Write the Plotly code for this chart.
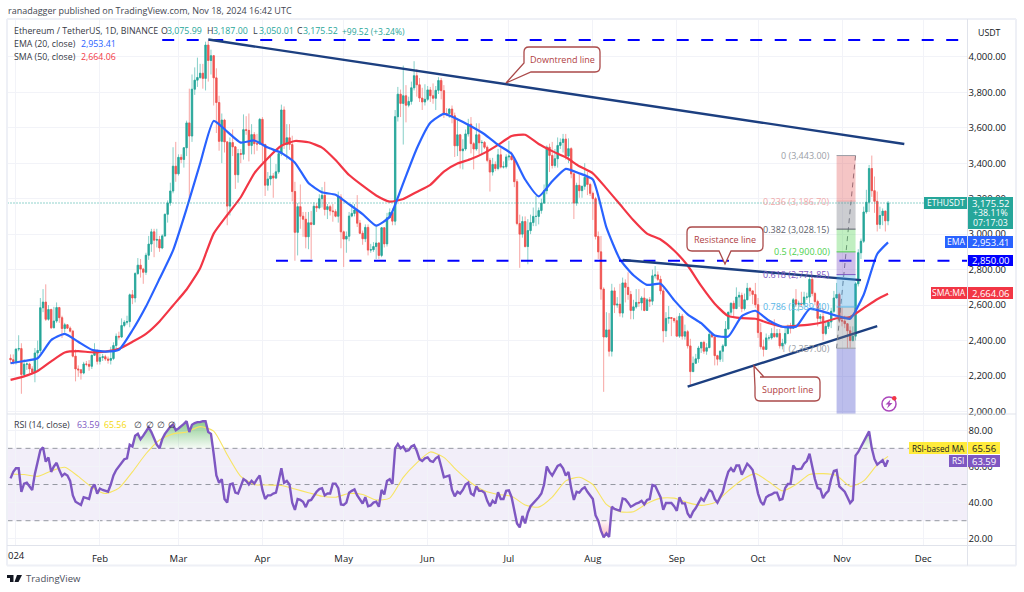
import pandas as pd
import numpy as np
import plotly.graph_objects as go

# --- daily ETHUSDT candles (30 Dec 2023 -> 18 Nov 2024) ---
closes = [2292, 2281,
    2352, 2355, 2209, 2267, 2268, 2240, 2221, 2330, 2344, 2585, 2617, 2520, 2575, 2472, 2510, 2586, 2529, 2468, 2489, 2470, 2453, 2312, 2240, 2235, 2217, 2268, 2266, 2255, 2317, 2342, 2283,
    2304, 2309, 2296, 2289, 2299, 2372, 2424, 2420, 2485, 2503, 2507, 2658, 2640, 2778, 2825, 2803, 2785, 2881, 2944, 3013, 2966, 2970, 2922, 2990, 3112, 3176, 3243, 3383, 3340,
    3433, 3421, 3487, 3627, 3553, 3817, 3868, 3883, 3907, 3878, 4066, 3979, 4006, 3881, 3742, 3523, 3643, 3520, 3158, 3516, 3492, 3335, 3454, 3450, 3589, 3585, 3500, 3561, 3510, 3508, 3647,
    3505, 3276, 3311, 3328, 3316, 3351, 3454, 3700, 3505, 3543, 3505, 3240, 3010, 3155, 3101, 3084, 2985, 3064, 3055, 3157, 3148, 3200, 3219, 3139, 3155, 3131, 3127, 3101, 3209, 3013,
    2972, 2988, 3102, 3117, 3136, 3062, 3005, 2974, 3038, 2910, 2912, 2930, 2950, 2880, 3036, 2945, 3092, 3122, 3073, 3662, 3789, 3737, 3780, 3727, 3748, 3825, 3893, 3842, 3767, 3745, 3760,
    3813, 3780, 3766, 3811, 3866, 3809, 3680, 3680, 3705, 3667, 3498, 3560, 3470, 3480, 3565, 3620, 3510, 3480, 3560, 3515, 3517, 3490, 3416, 3350, 3393, 3370, 3447, 3378, 3380, 3435,
    3440, 3420, 3296, 3060, 3000, 3071, 2930, 3020, 3065, 3100, 3100, 3133, 3175, 3245, 3490, 3444, 3387, 3425, 3500, 3517, 3536, 3440, 3482, 3340, 3175, 3275, 3245, 3270, 3320, 3280, 3230,
    3200, 2987, 2900, 2690, 2420, 2460, 2340, 2680, 2600, 2605, 2555, 2725, 2700, 2660, 2570, 2590, 2615, 2612, 2640, 2570, 2630, 2622, 2765, 2770, 2745, 2680, 2455, 2525, 2530, 2525, 2512,
    2425, 2537, 2425, 2450, 2370, 2225, 2272, 2297, 2358, 2390, 2340, 2360, 2435, 2420, 2315, 2295, 2340, 2370, 2465, 2560, 2610, 2580, 2645, 2655, 2580, 2630, 2695, 2680, 2660, 2602,
    2445, 2365, 2350, 2415, 2415, 2440, 2422, 2440, 2370, 2385, 2440, 2475, 2470, 2630, 2605, 2610, 2605, 2645, 2645, 2745, 2665, 2620, 2525, 2535, 2440, 2480, 2505, 2565, 2640, 2660, 2515,
    2510, 2495, 2455, 2400, 2425, 2720, 2895, 2960, 3125, 3180, 3370, 3245, 3185, 3055, 3105, 3130, 3075, 3175.52]
highs = [2322, 2322,
    2355, 2430, 2385, 2295, 2277, 2275, 2255, 2358, 2400, 2640, 2690, 2717, 2600, 2580, 2590, 2615, 2590, 2540, 2500, 2490, 2480, 2460, 2350, 2260, 2240, 2280, 2285, 2290, 2320, 2385, 2350,
    2325, 2325, 2320, 2310, 2365, 2390, 2440, 2450, 2525, 2515, 2540, 2665, 2685, 2785, 2865, 2860, 2810, 2895, 2990, 3030, 3030, 3030, 2990, 3000, 3115, 3190, 3290, 3490, 3520,
    3450, 3450, 3490, 3640, 3820, 3900, 3940, 3995, 3960, 3960, 4085, 4090, 4040, 4010, 3935, 3780, 3680, 3650, 3525, 3545, 3590, 3495, 3480, 3480, 3675, 3665, 3680, 3620, 3575, 3565, 3655,
    3660, 3510, 3350, 3445, 3345, 3395, 3455, 3730, 3720, 3620, 3620, 3555, 3295, 3175, 3280, 3125, 3125, 3125, 3130, 3180, 3175, 3225, 3265, 3295, 3170, 3165, 3170, 3140, 3240, 3225,
    3020, 3015, 3125, 3170, 3170, 3220, 3080, 3020, 3055, 3055, 2945, 2955, 3045, 2955, 3040, 3040, 3120, 3145, 3145, 3700, 3830, 3815, 3950, 3840, 3775, 3860, 3975, 3930, 3880, 3825, 3845,
    3835, 3830, 3850, 3835, 3885, 3880, 3840, 3710, 3710, 3725, 3685, 3655, 3565, 3535, 3590, 3650, 3660, 3520, 3625, 3625, 3530, 3525, 3500, 3430, 3430, 3410, 3480, 3485, 3410, 3450,
    3525, 3465, 3430, 3310, 3110, 3100, 3100, 3085, 3110, 3150, 3215, 3150, 3200, 3280, 3500, 3510, 3520, 3480, 3545, 3540, 3565, 3565, 3540, 3490, 3345, 3290, 3340, 3270, 3400, 3350, 3290,
    3240, 3210, 3015, 2990, 2700, 2560, 2555, 2720, 2700, 2645, 2720, 2755, 2745, 2785, 2680, 2630, 2690, 2690, 2650, 2695, 2640, 2645, 2800, 2820, 2790, 2765, 2695, 2560, 2595, 2525, 2525,
    2535, 2555, 2550, 2490, 2460, 2410, 2310, 2325, 2370, 2390, 2400, 2385, 2460, 2425, 2420, 2320, 2345, 2380, 2510, 2560, 2615, 2625, 2700, 2675, 2670, 2665, 2725, 2700, 2665, 2725,
    2640, 2500, 2405, 2440, 2430, 2470, 2520, 2465, 2465, 2410, 2475, 2490, 2500, 2640, 2690, 2625, 2675, 2675, 2670, 2760, 2770, 2675, 2630, 2550, 2585, 2510, 2505, 2585, 2680, 2725, 2670,
    2585, 2540, 2495, 2480, 2480, 2730, 2915, 2975, 3155, 3250, 3390, 3443, 3325, 3240, 3155, 3145, 3125, 3187]
lows = [2270, 2265,
    2265, 2340, 2100, 2205, 2235, 2215, 2210, 2165, 2235, 2330, 2560, 2510, 2512, 2465, 2470, 2500, 2500, 2415, 2445, 2465, 2445, 2305, 2170, 2195, 2180, 2210, 2255, 2230, 2240, 2315, 2265,
    2265, 2285, 2285, 2270, 2265, 2290, 2350, 2405, 2415, 2475, 2490, 2475, 2605, 2615, 2770, 2755, 2720, 2770, 2855, 2900, 2870, 2925, 2900, 2915, 2985, 3065, 3160, 3230, 3295,
    3330, 3400, 3375, 3440, 3200, 3520, 3785, 3830, 3875, 3820, 3810, 3860, 3900, 3725, 3570, 3470, 3400, 3460, 3050, 3105, 3440, 3255, 3290, 3400, 3420, 3560, 3410, 3450, 3450, 3470, 3505,
    3405, 3215, 3245, 3275, 3205, 3310, 3340, 3440, 3480, 3420, 3475, 3185, 2850, 2880, 3030, 2985, 2920, 2915, 2860, 3050, 3125, 3140, 3150, 3105, 3085, 3105, 3070, 3095, 3065, 2920,
    2815, 2895, 2960, 3095, 3100, 3040, 3000, 2940, 2955, 2880, 2895, 2900, 2860, 2860, 2870, 2925, 2930, 3090, 3050, 3050, 3635, 3660, 3505, 3630, 3715, 3730, 3810, 3775, 3745, 3700, 3725,
    3750, 3745, 3735, 3700, 3790, 3760, 3655, 3665, 3655, 3625, 3435, 3440, 3370, 3365, 3470, 3550, 3455, 3365, 3470, 3450, 3445, 3480, 3405, 3240, 3330, 3355, 3360, 3370, 3370, 3370,
    3415, 3415, 3265, 3050, 2810, 2980, 2925, 2830, 3000, 3045, 3045, 3055, 3115, 3170, 3225, 3350, 3370, 3375, 3375, 3480, 3460, 3420, 3400, 3315, 3085, 3160, 3205, 3205, 3250, 3220, 3215,
    3080, 2970, 2860, 2630, 2111, 2420, 2310, 2310, 2555, 2585, 2535, 2530, 2615, 2630, 2520, 2520, 2580, 2590, 2570, 2565, 2575, 2590, 2600, 2750, 2735, 2660, 2390, 2420, 2495, 2425, 2500,
    2425, 2415, 2405, 2405, 2355, 2150, 2255, 2270, 2275, 2330, 2325, 2320, 2390, 2420, 2260, 2260, 2280, 2280, 2420, 2465, 2545, 2535, 2585, 2590, 2560, 2570, 2630, 2650, 2605, 2585,
    2415, 2350, 2310, 2350, 2400, 2405, 2415, 2415, 2355, 2350, 2375, 2435, 2440, 2465, 2590, 2565, 2590, 2590, 2630, 2610, 2650, 2600, 2480, 2500, 2400, 2430, 2465, 2470, 2555, 2650, 2500,
    2480, 2470, 2357, 2360, 2395, 2400, 2705, 2860, 2950, 3115, 3125, 3210, 3120, 3015, 3030, 3050, 3015, 3050]
first_open = 2300

# moving averages, read every 5 days (last point is the final candle)
ma_days = list(range(-2, 320, 5)) + [322]
ema20 = [2272, 2285, 2300, 2403, 2438, 2393, 2348, 2338, 2348, 2458, 2592, 2748, 2908, 3143, 3398, 3638, 3578, 3516, 3528, 3488, 3458, 3403, 3288, 3236, 3222,
    3168, 3113, 3048, 3098, 3288, 3483, 3628, 3678, 3648, 3608, 3563, 3503, 3453, 3308, 3213, 3298, 3368, 3343, 3308, 3038, 2858, 2768, 2714, 2720, 2628,
    2548, 2498, 2428, 2423, 2538, 2568, 2513, 2478, 2478, 2578, 2563, 2540, 2523, 2658, 2888, 2953.41]
sma50 = [2178, 2198, 2228, 2283, 2333, 2340, 2334, 2338, 2353, 2393, 2438, 2508, 2598, 2688, 2808, 3003, 3108, 3208, 3343, 3428, 3498, 3525, 3518, 3488, 3418,
    3333, 3273, 3218, 3183, 3198, 3238, 3278, 3353, 3398, 3423, 3458, 3503, 3553, 3560, 3508, 3468, 3433, 3383, 3343, 3258, 3168, 3078, 3003, 2970, 2908,
    2823, 2708, 2608, 2538, 2526, 2523, 2498, 2478, 2483, 2490, 2503, 2526, 2533, 2583, 2633, 2664.06]
rsi_ma = [55.8, 55.5, 54.5, 57.5, 59.5, 54.5, 48.5, 45, 48, 57, 67, 74.6, 78, 79, 82, 79.5, 66.5, 54.5, 50, 49.7, 49.5, 47.5, 45.5, 43.5, 43,
    45, 44.5, 41.4, 42.5, 54, 62, 68, 65, 57.5, 51, 46.5, 44.5, 43.5, 38.7, 37.5, 43, 52, 54, 50, 39, 35, 35, 39.5, 42.5, 42.5,
    40, 38.5, 40, 46.5, 52.5, 56, 51.5, 46.5, 50, 55.5, 56, 55, 49, 52, 61, 65.56]

rsi = [53.4, 57,
    59, 59, 46, 50.5, 51, 49, 47, 56, 62, 69, 70.5, 62.6, 65, 57, 60, 62, 58, 54.7, 56, 55, 52, 44, 40.5, 39.5, 38.7, 43, 42.5, 42, 48, 50, 45,
    47.8, 47, 46.5, 46, 50, 55, 58, 60, 62.6, 64, 64.5, 72, 71, 77, 78, 75, 77, 79, 81.6, 79, 75, 72, 70, 75, 78, 80, 82, 83, 80,
    81, 82, 83.5, 85, 79, 83, 84, 84.5, 84.5, 85, 85, 79, 78, 67, 55, 51, 53, 42, 40, 50, 50.5, 45.5, 45, 49, 53, 52, 50, 52, 50.5, 53, 55,
    47, 42, 44, 44, 45, 45.5, 52, 59, 51, 52, 50, 40, 36, 42, 41.5, 40.5, 37.5, 41, 41.5, 44, 46, 47.5, 48, 44, 45, 45, 50.5, 50.5, 48, 39,
    38.7, 40, 45.5, 46.5, 47.3, 44, 41.5, 39.5, 43, 38, 38.5, 40, 40.5, 37.7, 47, 44.5, 52, 53, 50.3, 70, 72.4, 70, 71, 68.5, 69, 71, 71.8, 68.5, 64, 63, 64.5,
    65, 63, 62.5, 64.5, 65.5, 60, 54, 54.5, 55, 47, 43.5, 46, 45, 47, 50, 51, 45, 44, 49, 46.5, 46.5, 45.5, 41, 38, 41, 39.5, 45.7, 42, 42, 46.5,
    46.8, 43, 35, 28.5, 26.3, 32.6, 28.5, 34.4, 38, 39.6, 41, 43, 45, 50, 60, 57, 55, 58, 60.3, 61, 59, 55, 57, 48, 41.5, 46, 45.5, 47.5, 48.5, 46, 44,
    42, 33, 30, 24.5, 20.8, 23, 21, 37.7, 36.5, 36, 35.5, 42.3, 41.8, 40, 37.7, 38.5, 39.5, 40, 41, 39, 41.5, 42, 49.7, 49.3, 46.5, 43, 36, 39.8, 39.8, 39.8, 38, 35.5, 43,
    39.6, 39.6, 34, 31.7, 35, 37, 40, 42.4, 41, 44, 47, 46, 42, 40, 43, 46, 52, 57, 59, 57, 60.5, 60.5, 55.4, 58.5, 61.5, 60, 58, 52, 45, 40.5,
    38.7, 43, 44, 44.5, 45.5, 45.5, 41.5, 42, 48, 50.3, 50.4, 60.5, 58.5, 58.5, 58.8, 61.5, 63, 67, 59, 53, 48, 47.5, 42.4, 45, 46.5, 53, 57.5, 58, 49, 47.5, 46,
    43, 39.8, 41.5, 66, 68, 71, 74, 77, 79.4, 70, 64, 61, 62.5, 63.5, 60, 63.59]

# drawings
downtrend_x = ["2024-03-12", "2024-11-24"]
downtrend_y = [4097, 3508]
resistance_x = ["2024-08-12", "2024-11-08"]
resistance_y = [2854, 2741]
support_x = ["2024-09-05", "2024-11-14"]
support_y = [2140, 2482]
level_top_x = ["2024-02-24", "2024-12-17T08:00"]
level_top_y = [4095, 4095]
level_mid_x = ["2024-04-06", "2024-12-17T08:00"]
level_mid_y = [2850, 2850]

fib_x = ["2024-10-30", "2024-11-06"]
fib_levels = ["0", "0.236", "0.382", "0.5", "0.618", "0.786", "1"]
fib_prices = [3443.00, 3186.70, 3028.15, 2900.00, 2771.85, 2589.40, 2357.00]
fib_colors = ["#9b9ea6", "#f0a9a9", "#5d606b", "#4cd04c", "#7e57c2", "#56b4e6", "#9b9ea6"]
fib_fills = ["rgba(224,80,80,.33)", "rgba(120,123,134,.38)", "rgba(76,208,76,.35)", "rgba(126,87,194,.38)",
             "rgba(60,160,225,.35)", "rgba(120,123,134,.32)", "rgba(63,70,200,.35)"]

price_ticks = [2000, 2200, 2400, 2600, 2800, 3000, 3200, 3400, 3600, 3800, 4000]
rsi_ticks = [20, 40, 60, 80]
month_ticks = ["2024-01-01", "2024-02-01", "2024-03-01", "2024-04-01", "2024-05-01", "2024-06-01",
               "2024-07-01", "2024-08-01", "2024-09-01", "2024-10-01", "2024-11-01", "2024-12-01"]
month_labels = ["", "Feb", "Mar", "Apr", "May", "Jun", "Jul", "Aug", "Sep", "Oct", "Nov", "Dec"]

dates = pd.date_range("2023-12-30", periods=len(closes))
opens = [first_open] + closes[:-1]
jan1 = pd.Timestamp("2024-01-01")
ma_x = [jan1 + pd.Timedelta(days=d) for d in ma_days]

FONT = "Open Sans"
INK = "#131722"
W, H = 1024, 592
def px(x): return x / W
def py(y): return 1 - y / H

fig = go.Figure()

# pale wicks first, then the solid bodies on top
fig.add_trace(go.Candlestick(
    x=dates, open=opens, high=highs, low=lows, close=closes, xaxis="x", yaxis="y",
    increasing=dict(line=dict(color="#86cfc8", width=1), fillcolor="#86cfc8"),
    decreasing=dict(line=dict(color="#f7a5a3", width=1), fillcolor="#f7a5a3"),
    whiskerwidth=0, showlegend=False))
body_top = np.maximum(opens, closes)
body_bot = np.minimum(opens, closes)
fig.add_trace(go.Candlestick(
    x=dates, open=opens, high=body_top, low=body_bot, close=closes, xaxis="x", yaxis="y",
    increasing=dict(line=dict(color="#26a69a", width=0.7), fillcolor="#26a69a"),
    decreasing=dict(line=dict(color="#ef5350", width=0.7), fillcolor="#ef5350"),
    whiskerwidth=0, showlegend=False))
fig.add_trace(go.Scatter(x=ma_x, y=sma50, mode="lines", line=dict(color="#f23645", width=2.2, shape="spline", smoothing=0.5), xaxis="x", yaxis="y"))
fig.add_trace(go.Scatter(x=ma_x, y=ema20, mode="lines", line=dict(color="#2962ff", width=2.2, shape="spline", smoothing=0.5), xaxis="x", yaxis="y"))

# dashed levels and trend lines
for xs, ys in [(level_top_x, level_top_y), (level_mid_x, level_mid_y)]:
    fig.add_trace(go.Scatter(x=xs, y=ys, mode="lines", line=dict(color="#0000ff", width=2, dash="12px,12.5px"), xaxis="x", yaxis="y"))
for xs, ys in [(downtrend_x, downtrend_y), (resistance_x, resistance_y), (support_x, support_y)]:
    fig.add_trace(go.Scatter(x=xs, y=ys, mode="lines", line=dict(color="#1c3f80", width=2.4), xaxis="x", yaxis="y"))
# fib diagonal
fig.add_trace(go.Scatter(x=[fib_x[1], fib_x[0]], y=[fib_prices[0], fib_prices[-1]], mode="lines",
                         line=dict(color="#787b86", width=1, dash="5px,4px"), xaxis="x", yaxis="y"))

# RSI pane: zones beyond 70 / 30, then MA and RSI
rsi_arr = np.array(rsi)
fig.add_trace(go.Scatter(x=dates, y=[70] * len(dates), mode="lines", line=dict(width=0), xaxis="x2", yaxis="y2"))
fig.add_trace(go.Scatter(x=dates, y=np.maximum(rsi_arr, 70), mode="lines", line=dict(width=0), fill="tonexty",
                         fillgradient=dict(type="vertical", colorscale=[[0, "rgba(76,175,80,.05)"], [1, "rgba(76,175,80,.65)"]]),
                         xaxis="x2", yaxis="y2"))
fig.add_trace(go.Scatter(x=dates, y=[30] * len(dates), mode="lines", line=dict(width=0), xaxis="x2", yaxis="y2"))
fig.add_trace(go.Scatter(x=dates, y=np.minimum(rsi_arr, 30), mode="lines", line=dict(width=0), fill="tonexty",
                         fillgradient=dict(type="vertical", colorscale=[[0, "rgba(242,54,69,.35)"], [1, "rgba(242,54,69,.03)"]]),
                         xaxis="x2", yaxis="y2"))
fig.add_trace(go.Scatter(x=ma_x, y=rsi_ma, mode="lines", line=dict(color="#f7e463", width=1.1, shape="spline", smoothing=0.6), xaxis="x2", yaxis="y2"))
fig.add_trace(go.Scatter(x=dates, y=rsi, mode="lines", line=dict(color="#7e57c2", width=2.4), xaxis="x2", yaxis="y2"))

shapes = []
# RSI band and dashed guides
shapes.append(dict(type="rect", xref="x2 domain", yref="y2", x0=0, x1=1, y0=30, y1=70, fillcolor="rgba(126,87,194,.1)", line_width=0, layer="below"))
for v in [70, 50, 30]:
    shapes.append(dict(type="line", xref="x2 domain", yref="y2", x0=0, x1=1, y0=v, y1=v, line=dict(color="#9598a1", width=1, dash="5px,4px"), layer="below"))

# last price line
shapes.append(dict(type="line", xref="x domain", yref="y", x0=0, x1=1, y0=closes[-1], y1=closes[-1], line=dict(color="#26a69a", width=1, dash="1px,2px")))

# fib boxes and level lines
bottoms = fib_prices[1:] + [1986]
for top, bot, fill in zip(fib_prices, bottoms, fib_fills):
    shapes.append(dict(type="rect", xref="x", yref="y", x0=fib_x[0], x1=fib_x[1], y0=bot, y1=top, fillcolor=fill, line_width=0))
for p, c in zip(fib_prices, fib_colors):
    shapes.append(dict(type="line", xref="x", yref="y", x0=fib_x[0], x1=fib_x[1], y0=p, y1=p, line=dict(color=c, width=1)))

def callout(x0, y0, x1, y1, pointer):
    """rounded box with a pointer, built in page pixels. pointer = points spliced into the outline"""
    r = 5
    p = lambda x, y: f"{px(x):.5f},{py(y):.5f}"
    d = [f"M{p(x0 + r, y0)}", f"L{p(x1 - r, y0)}", f"Q{p(x1, y0)} {p(x1, y0 + r)}", f"L{p(x1, y1 - r)}", f"Q{p(x1, y1)} {p(x1 - r, y1)}"]
    d += [f"L{p(*pt)}" for pt in pointer.get("bottom", [])]
    if "corner_bl" in pointer:
        d += [f"L{p(*pt)}" for pt in pointer["corner_bl"]]
    else:
        d += [f"L{p(x0 + r, y1)}", f"Q{p(x0, y1)} {p(x0, y1 - r)}"]
    if "corner_tl" in pointer:
        d += [f"L{p(*pt)}" for pt in pointer["corner_tl"]] + ["Z"]
    else:
        d += [f"L{p(x0, y0 + r)}", f"Q{p(x0, y0)} {p(x0 + r, y0)} Z"]
    shapes.append(dict(type="path", xref="paper", yref="paper", path=" ".join(d), fillcolor="white", line=dict(color="#ab4a4a", width=1.3)))

def box(x0, y0, x1, y1, color):
    shapes.append(dict(type="rect", xref="paper", yref="paper", x0=px(x0), x1=px(x1), y0=py(y1), y1=py(y0), fillcolor=color, line_width=0))

callout(524, 47, 600, 72, dict(corner_bl=[(531, 72), (506, 83), (524, 63)]))
callout(687, 227, 763, 251, dict(bottom=[(731, 251), (725, 264), (719, 251)]))
callout(755, 377, 820, 401, dict(corner_tl=[(755, 387), (754, 366), (764, 377)]))

# axis tags at the right
box(924, 197, 967, 209, "#26a69a")
box(968, 197, 1013, 229, "#26a69a")
box(945, 236, 967, 248, "#2962ff")
box(968, 236, 1013, 248, "#2962ff")
box(968, 255, 1013, 266, "#0000ff")
box(931, 287, 967, 299, "#f23645")
box(968, 287, 1013, 299, "#f23645")
box(909, 442, 967, 454, "#ffeb3b")
box(968, 442, 1000, 454, "#ffeb3b")
box(949, 455, 967, 467, "#7e57c2")
box(968, 455, 1000, 467, "#7e57c2")

# chart frame
for (x0, y0, x1, y1) in [(7, 19, 1016, 19), (7, 565.5, 1016, 565.5), (7, 19, 7, 565.5), (1016, 19, 1016, 565.5)]:
    shapes.append(dict(type="line", xref="paper", yref="paper", x0=px(x0), x1=px(x1), y0=py(y0), y1=py(y1), line=dict(color="#eef0f6", width=2)))
for (x0, y0, x1, y1) in [(7, 414, 1016, 414), (7, 545.5, 1016, 545.5), (967.5, 19, 967.5, 565.5)]:
    shapes.append(dict(type="line", xref="paper", yref="paper", x0=px(x0), x1=px(x1), y0=py(y0), y1=py(y1), line=dict(color="#e0e3eb", width=1)))

# small icon near the bottom of the price pane
shapes.append(dict(type="circle", xref="paper", yref="paper", x0=px(882), x1=px(896), y0=py(411), y1=py(397), line=dict(color="#ab47bc", width=1.5), fillcolor="white"))
bolt = [(890.5, 399.5), (885.5, 404.5), (888.5, 404.5), (887, 408.5), (892.5, 403), (889.5, 403)]
shapes.append(dict(type="path", xref="paper", yref="paper", fillcolor="#ab47bc", line_width=0,
                   path="M" + " L".join(f"{px(a):.5f},{py(b):.5f}" for a, b in bolt) + " Z"))
shapes.append(dict(type="circle", xref="paper", yref="paper", x0=px(892), x1=px(896.5), y0=py(400.5), y1=py(396), fillcolor="#f23645", line_width=0))

# TradingView mark
for poly in [[(7, 575), (13.5, 575), (13.5, 582), (10, 582), (10, 578), (7, 578)], [(17, 575), (22, 575), (18.5, 582), (14.5, 582)]]:
    shapes.append(dict(type="path", xref="paper", yref="paper", fillcolor="#131722", line_width=0,
                       path="M" + " L".join(f"{px(a):.5f},{py(b):.5f}" for a, b in poly) + " Z"))

annotations = []
def label(x, y, text, color=INK, size=9, anchor="left"):
    shift = -1.5 if anchor == "left" else 0
    annotations.append(dict(xref="paper", yref="paper", x=px(x), y=py(y), xshift=shift, text=text, showarrow=False,
                            xanchor=anchor, yanchor="middle", font=dict(family=FONT, size=size, color=color)))

GREEN = "#26a69a"
label(7, 11, "ranadagger published on TradingView.com, Nov 18, 2024 16:42 UTC", "#434651", 9)
label(13, 31, "Ethereum / TetherUS, 1D, BINANCE", "#363a45", 8.8)
x_ohlc = [(160, "O", "3,075.99"), (206, "H", "3,187.00"), (252, "L", "3,050.01"), (296, "C", "3,175.52")]
for x, k, v in x_ohlc:
    label(x, 31, k, "#363a45", 8.8)
    label(x + 6, 31, v, GREEN, 8.8)
label(341, 31, "+99.52 (+3.24%)", GREEN, 8.5)
label(13, 44, "EMA (20, close)", "#363a45", 8.8)
label(80, 44, "2,953.41", "#2962ff", 8.8)
label(13, 57, "SMA (50, close)", "#363a45", 8.8)
label(80, 57, "2,664.06", "#f23645", 8.8)
label(13, 425, "RSI (14, close)", "#363a45", 8.8)
label(76, 425, "63.59", "#7e57c2", 8.8)
label(103, 425, "65.56", "#f5d90a", 8.8)
for x in [133, 145, 156, 167]:
    label(x, 425, "∅", "#363a45", 8.8)
label(977, 33, "USDT", INK, 8.8)
label(7, 555, "024", INK, 9.5)

label(562, 59.5, "Downtrend line", "#b0403f", 9, "center")
label(725, 239, "Resistance line", "#b0403f", 9, "center")
label(787.5, 389, "Support line", "#b0403f", 9, "center")

# fib labels
for name, p, c in zip(fib_levels, fib_prices, fib_colors):
    annotations.append(dict(xref="x", yref="y", x=fib_x[0], y=p, xshift=-5, text=f"{name} ({p:,.2f})", showarrow=False, xanchor="right",
                            yanchor="middle", font=dict(family=FONT, size=9, color=c)))

label(945.5, 203, "ETHUSDT", "white", 8.6, "center")
label(990.5, 203, "3,175.52", "white", 9.5, "center")
label(990.5, 213, "+38.11%", "white", 8.8, "center")
label(990.5, 223, "07:17:03", "white", 8.8, "center")
label(956, 242, "EMA", "white", 8.6, "center")
label(990.5, 242, "2,953.41", "white", 9.5, "center")
label(990.5, 260.5, "2,850.00", "white", 9.5, "center")
label(949, 293, "SMA:MA", "white", 8.6, "center")
label(990.5, 293, "2,664.06", "white", 9.5, "center")
label(938, 448, "RSI-based MA", INK, 8.2, "center")
label(984, 448, "65.56", INK, 9.5, "center")
label(958, 461, "RSI", "white", 8.6, "center")
label(984, 461, "63.59", "white", 9.5, "center")
label(25, 578.5, "TradingView", "#4a4e5a", 9.5)

x_range = ["2023-12-28T21:00", "2024-12-17T08:00"]
grid = "#f2f3f8"
common_x = dict(range=x_range, type="date", tickmode="array", tickvals=month_ticks, ticktext=month_labels, showgrid=True,
                gridcolor=grid, gridwidth=1, zeroline=False, showline=False, rangeslider=dict(visible=False),
                domain=[px(7.5), px(967.5)])

fig.update_layout(
    width=W, height=H, margin=dict(l=0, r=0, t=0, b=0, autoexpand=False), paper_bgcolor="white", plot_bgcolor="white",
    showlegend=False, hovermode=False,
    xaxis=dict(**common_x, anchor="y", showticklabels=False, ticks=""),
    xaxis2=dict(**common_x, anchor="y2", tickfont=dict(family=FONT, size=9.5, color=INK), ticklen=4, tickcolor="rgba(0,0,0,0)", ticks="outside"),
    yaxis=dict(domain=[py(414), py(19.5)], range=[1986, 4210], side="right", anchor="x", tickmode="array", tickvals=price_ticks,
               tickformat=",.2f", showgrid=True, gridcolor=grid, zeroline=False, ticks="", tickfont=dict(family=FONT, size=9.5, color=INK)),
    yaxis2=dict(domain=[py(545.5), py(414.5)], range=[16.3, 88.7], side="right", anchor="x2", tickmode="array", tickvals=rsi_ticks,
                tickformat=".2f", showgrid=True, gridcolor=grid, zeroline=False, ticks="", tickfont=dict(family=FONT, size=9.5, color=INK)),
    shapes=shapes, annotations=annotations,
)

# the browser's default body margin would push the page 8px down and right
fig.write_html("out.html", config={"displayModeBar": False},
               post_script="document.body.style.margin='0';document.body.style.overflow='hidden';")
